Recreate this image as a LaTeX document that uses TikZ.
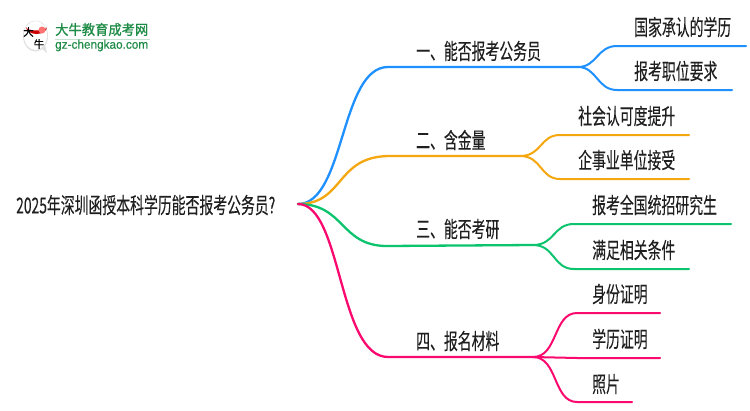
\documentclass[tikz,border=0pt]{standalone}
\usepackage{fontspec}
\setmainfont{Liberation Sans}
\newfontfamily\cjkn[FakeStretch=0.63,FakeBold=0.12]{Noto Sans CJK SC}
\newfontfamily\cjkb[FakeStretch=0.95,FakeBold=0.9]{Noto Sans CJK SC}
\newfontfamily\cjkl[FakeBold=0.4]{Noto Sans CJK SC}
\newfontfamily\urlf[FakeStretch=0.95,FakeBold=0.3]{Liberation Sans}
\definecolor{cblue}{HTML}{1E90FF}
\definecolor{corange}{HTML}{F5A70F}
\definecolor{cgreen}{HTML}{0DC46E}
\definecolor{cpink}{HTML}{FA0A6E}
\definecolor{cgreent}{HTML}{1E8C46}
\tikzset{
  lab/.style={anchor=west,inner sep=0pt,text=black!88,font=\cjkn\fontsize{22}{24}\selectfont},
  branch/.style={line width=2.3pt,line cap=round},
  leafline/.style={line width=2pt,line cap=round}
}
\begin{document}
\begin{tikzpicture}[x=1pt,y=-1pt]
\useasboundingbox (0,0) rectangle (750,410);
\fill[white] (0,0) rectangle (750,410);
% logo
\fill[black!12] (35.5,36) ellipse (12.5 and 15.5);
\fill[white] (35.5,35.5) ellipse (11.5 and 14.5);
\fill[black!12] (41,48) -- (47,53) -- (45,45) -- cycle;
\fill[red!80!black] (26,27) arc[start angle=180,end angle=0,x radius=10.5,y radius=7] -- (47,27) arc[start angle=0,end angle=180,x radius=10.5,y radius=3.5] -- cycle;
\fill[red!55!white] (42,30) circle (3.5);
\node[inner sep=0pt,text=black,font=\cjkl\fontsize{10.5}{11}\selectfont] (logoA) at (28.5,32) {大};
\node[inner sep=0pt,text=black,font=\cjkl\fontsize{10.5}{11}\selectfont] (logoB) at (39,44) {牛};
\node[anchor=west,inner sep=0pt,text=cgreent,font=\cjkb\fontsize{14}{14}\selectfont] (logoT) at (55,29.5) {大牛教育成考网};
\fill[cgreent!25] (55,38.5) rectangle (150,39.5);
\node[anchor=west,inner sep=0pt,text=cgreent,font=\urlf\fontsize{12.4}{12}\selectfont] (logoU) at (55,45.5) {gz-chengkao.com};
% anchors
\coordinate (root) at (298,204);
\coordinate (b1) at (388,67);  \coordinate (f1) at (578,67);
\coordinate (b2) at (390,156); \coordinate (f2) at (520,156);
\coordinate (b3) at (387,246); \coordinate (f3) at (533,245);
\coordinate (b4) at (388,357); \coordinate (f4) at (533,357);
\coordinate (l1s) at (617,46);  \coordinate (l1e) at (746,46);
\coordinate (l2s) at (617,90);  \coordinate (l2e) at (732,90);
\coordinate (l3s) at (560,135); \coordinate (l3e) at (689,135);
\coordinate (l4s) at (560,179); \coordinate (l4e) at (689,179);
\coordinate (l5s) at (574,224); \coordinate (l5e) at (731,224);
\coordinate (l6s) at (574,269); \coordinate (l6e) at (689,269);
\coordinate (l7s) at (577,313); \coordinate (l7e) at (660,313);
\coordinate (l8s) at (577,358); \coordinate (l8e) at (660,358);
\coordinate (l9s) at (577,402); \coordinate (l9e) at (632,402);
% texts
\node[lab] (t0) at (16,205) {2025年深圳函授本科学历能否报考公务员?};
\node[lab] (t1) at (416,51) {一、能否报考公务员};
\node[lab] (t2) at (416,140) {二、含金量};
\node[lab] (t3) at (416,229) {三、能否考研};
\node[lab] (t4) at (416,341) {四、报名材料};
\node[lab] (n1) at (634,27) {国家承认的学历};
\node[lab] (n2) at (634,71) {报考职位要求};
\node[lab] (n3) at (578,116) {社会认可度提升};
\node[lab] (n4) at (578,160) {企事业单位接受};
\node[lab] (n5) at (592,205) {报考全国统招研究生};
\node[lab] (n6) at (592,250) {满足相关条件};
\node[lab] (n7) at (592,294) {身份证明};
\node[lab] (n8) at (592,339) {学历证明};
\node[lab] (n9) at (592,384) {照片};
% branches
\draw[branch,cblue] (root) .. controls (345,204) and (340,67) .. (b1) -- (f1);
\draw[branch,corange] (root) .. controls (345,204) and (335,156) .. (b2) -- (f2);
\draw[branch,cgreen] (root) .. controls (345,204) and (340,246) .. (b3) -- (f3);
\draw[branch,cpink] (root) .. controls (342,204) and (338,357) .. (b4) -- (f4);
% leaves
\draw[leafline,cblue] (f1) .. controls (597,67) and (597,46) .. (l1s) -- (l1e);
\draw[leafline,cblue] (f1) .. controls (597,67) and (597,90) .. (l2s) -- (l2e);
\draw[leafline,corange] (f2) .. controls (542,156) and (540,135) .. (l3s) -- (l3e);
\draw[leafline,corange] (f2) .. controls (542,156) and (540,179) .. (l4s) -- (l4e);
\draw[leafline,cgreen] (f3) .. controls (555,245) and (553,224) .. (l5s) -- (l5e);
\draw[leafline,cgreen] (f3) .. controls (555,245) and (553,269) .. (l6s) -- (l6e);
\draw[leafline,cpink] (f4) .. controls (558,357) and (553,313) .. (l7s) -- (l7e);
\draw[leafline,cpink] (f4) -- (l8s) -- (l8e);
\draw[leafline,cpink] (f4) .. controls (558,357) and (553,402) .. (l9s) -- (l9e);
\end{tikzpicture}
\end{document}
